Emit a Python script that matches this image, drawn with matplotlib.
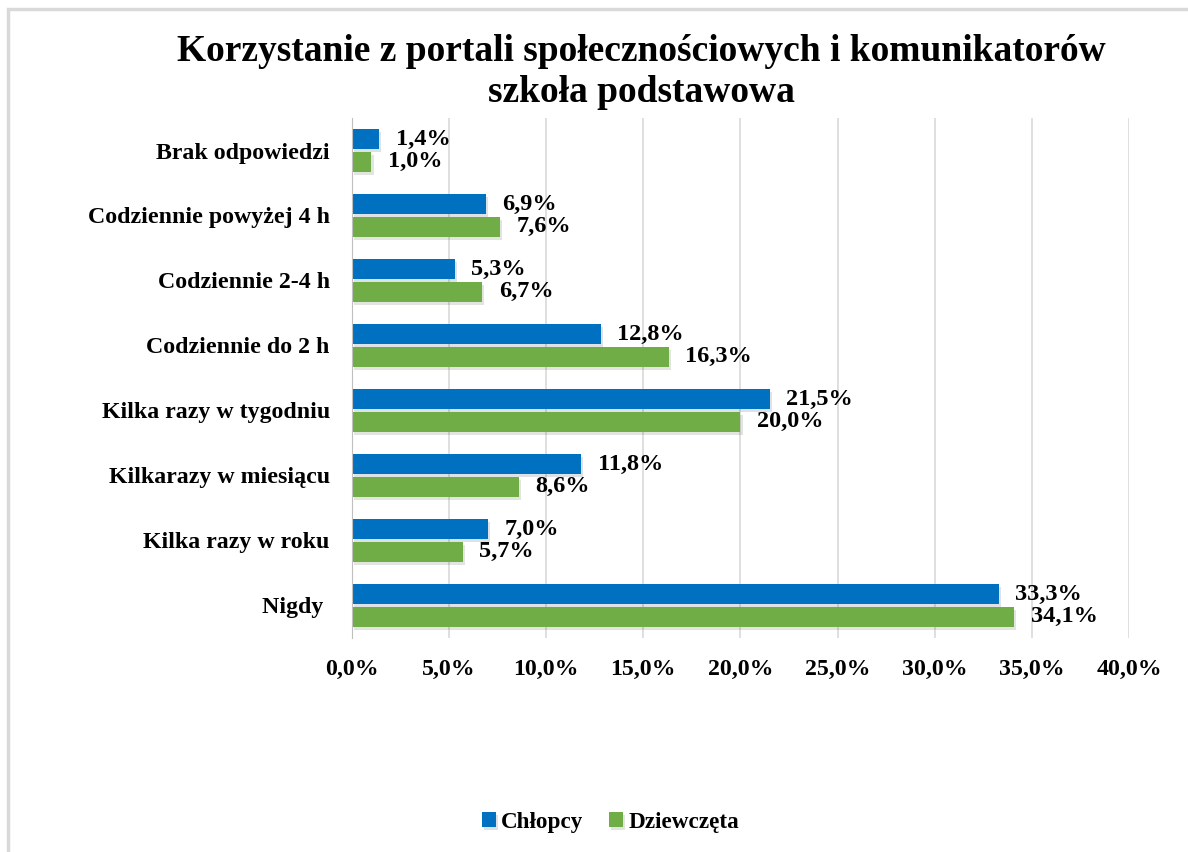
import numpy as np
import matplotlib
matplotlib.use('Agg')
import matplotlib.pyplot as plt
import matplotlib.patheffects as pe
from matplotlib.patches import Rectangle

# Data (top to bottom as in the chart)
categories = ['Brak odpowiedzi', 'Codziennie powyżej 4 h', 'Codziennie 2-4 h',
              'Codziennie do 2 h', 'Kilka razy w tygodniu', 'Kilkarazy w miesiącu',
              'Kilka razy w roku', 'Nigdy ']
chlopcy = [1.4, 6.9, 5.3, 12.8, 21.5, 11.8, 7.0, 33.3]
dziewczeta = [1.0, 7.6, 6.7, 16.3, 20.0, 8.6, 5.7, 34.1]
xticks = [0, 5, 10, 15, 20, 25, 30, 35, 40]

blue = '#0070C0'
green = '#70AD47'

plt.rcParams['font.family'] = ['Liberation Serif', 'DejaVu Serif']
plt.rcParams['font.weight'] = 'bold'

fig = plt.figure(figsize=(11.88, 8.52), dpi=100)
ax = fig.add_axes([0.2963, 0.2512, 0.654, 0.6103])

# outer border like the exported chart frame
fig.patches.append(Rectangle((8 / 1188, -0.01), 1.02, 1 - 9 / 852 + 0.01,
                             transform=fig.transFigure, fill=False,
                             edgecolor='#D9D9D9', linewidth=2.5))

y = np.arange(len(categories))
h = 0.31
shadow = [pe.SimplePatchShadow(offset=(1.5, -2), alpha=0.13), pe.Normal()]
ax.barh(y - h / 2 - 0.02, chlopcy, height=h, color=blue, label='Chłopcy',
        path_effects=shadow, zorder=3)
ax.barh(y + h / 2 + 0.02, dziewczeta, height=h, color=green, label='Dziewczęta',
        path_effects=shadow, zorder=3)

for i in range(len(categories)):
    ax.text(chlopcy[i] + 0.85, y[i] - h / 2 - 0.02, f'{chlopcy[i]:.1f}%'.replace('.', ','),
            va='center', ha='left', fontsize=17.5, fontweight='bold')
    ax.text(dziewczeta[i] + 0.85, y[i] + h / 2 + 0.02, f'{dziewczeta[i]:.1f}%'.replace('.', ','),
            va='center', ha='left', fontsize=17.5, fontweight='bold')

ax.set_ylim(len(categories) - 0.5, -0.5)
ax.set_xlim(0, 40)
ax.set_yticks(y)
ax.set_yticklabels(categories, fontsize=17.2, fontweight='bold')
ax.set_xticks(xticks)
ax.set_xticklabels([f'{v:.1f}%'.replace('.', ',') for v in xticks],
                   fontsize=17.2, fontweight='bold')
ax.tick_params(axis='both', length=0)
ax.tick_params(axis='y', pad=16)
ax.tick_params(axis='x', pad=15)

ax.grid(axis='x', color='#D9D9D9', linewidth=1.2, zorder=0)
for s in ['top', 'right', 'bottom']:
    ax.spines[s].set_visible(False)
ax.spines['left'].set_color('#BFBFBF')
ax.spines['left'].set_zorder(4)

fig.text(0.54, 0.94, 'Korzystanie z portali społecznościowych i komunikatorów',
         ha='center', va='center', fontsize=27, fontweight='bold')
fig.text(0.54, 0.891, 'szkoła podstawowa',
         ha='center', va='center', fontsize=27, fontweight='bold')

fig.legend(loc='center', bbox_to_anchor=(0.514, 0.035), ncol=2, frameon=False,
           prop={'size': 16.7, 'weight': 'bold'}, handlelength=0.6,
           handleheight=0.6, columnspacing=1.1, handletextpad=0.25)

fig.savefig('out.png', dpi=100, facecolor='white')
